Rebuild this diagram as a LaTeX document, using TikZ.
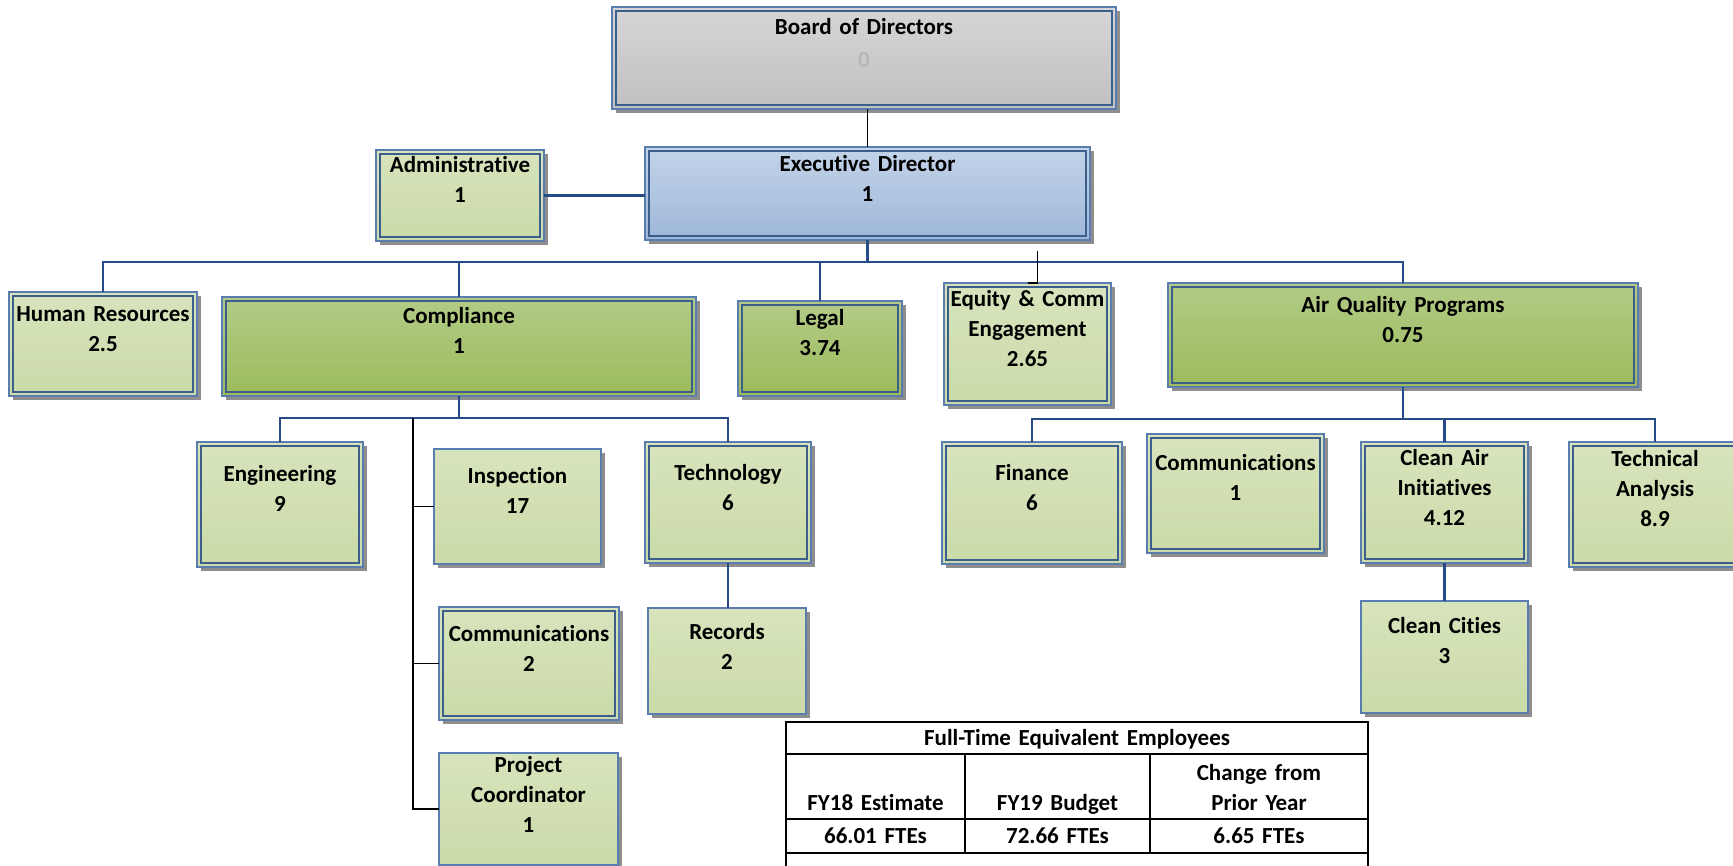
\documentclass[tikz,border=0pt]{standalone}
\usepackage{fontspec}
\setmainfont{Carlito}[Ligatures={NoCommon}]
\usepackage{xcolor}
\usetikzlibrary{shadows,calc}
\definecolor{edgeblue}{HTML}{5A7DB0}
\definecolor{rimblue}{HTML}{3B5E8C}
\definecolor{linkblue}{HTML}{264B86}
\definecolor{shadegray}{HTML}{8E8E8E}
\definecolor{paletop}{HTML}{D7E4BD}
\definecolor{palebottom}{HTML}{CBDAA8}
\definecolor{deeptop}{HTML}{B3CB87}
\definecolor{deepbottom}{HTML}{9CBB5B}
\definecolor{skytop}{HTML}{C3D4E9}
\definecolor{skybottom}{HTML}{9DB7D8}
\definecolor{greytop}{HTML}{D6D6D6}
\definecolor{greybottom}{HTML}{C0C0C0}
\definecolor{zerogray}{HTML}{B8B8B8}

\begin{document}
\begin{tikzpicture}[
  x=1pt,y=-1pt,
  font=\fontsize{23}{30}\selectfont\bfseries,
  office/.style={
    rectangle,
    anchor=north west,
    inner sep=0pt,
    outer sep=0pt,
    align=center,
    draw=edgeblue,
    line width=1.2pt,
    drop shadow={shadow xshift=4pt,shadow yshift=-4pt,fill=shadegray,opacity=1}
  },
  framed/.style={
    path picture={\draw[rimblue,line width=1.2pt]
      ([shift={(4pt,-4pt)}]path picture bounding box.north west) rectangle
      ([shift={(-4pt,4pt)}]path picture bounding box.south east);}
  },
  staff/.style={office,framed,top color=paletop,bottom color=palebottom},
  staffplain/.style={office,top color=paletop,bottom color=palebottom},
  division/.style={office,framed,top color=deeptop,bottom color=deepbottom},
  director/.style={office,framed,top color=skytop,bottom color=skybottom},
  boardbox/.style={office,framed,top color=greytop,bottom color=greybottom},
  boxsize/.style n args={3}{text width=#1pt,minimum width=#1pt,text height=#3pt,text depth=#2pt-#3pt},
  link/.style={draw=linkblue,line width=2.5pt},
  tie/.style={draw=black,line width=1.8pt},
  grid/.style={draw=black,line width=2.2pt},
  cell/.style={anchor=base,inner sep=0pt,text width=180pt,align=center}
]
  \useasboundingbox (0,0) rectangle (1733,866);

  % top of the chart
  \node[boardbox,boxsize={504}{102}{28}] (board) at (612,7) {Board of Directors\\[3pt]\textcolor{zerogray}{0}};
  \node[director,boxsize={445}{93}{25}] (exec) at (645,147) {Executive Director\\1};
  \node[staff,boxsize={168}{91}{23}] (admin) at (376,150) {Administrative\\1};

  % divisions
  \node[staff,boxsize={188}{104}{30}] (hr) at (9,292) {Human Resources\\2.5};
  \node[division,boxsize={474}{99}{27}] (compliance) at (222,297) {Compliance\\1};
  \node[division,boxsize={164}{95}{25}] (legal) at (738,301) {Legal\\3.74};
  \node[staff,boxsize={167}{122}{24}] (equity) at (944,283) {Equity \& Comm\\Engagement\\2.65};
  \node[division,boxsize={470}{104}{30}] (aqp) at (1168,283) {Air Quality Programs\\0.75};

  % compliance units
  \node[staff,boxsize={166}{125}{40}] (engineering) at (197,442) {Engineering\\9};
  \node[staffplain,boxsize={167}{115}{35}] (inspection) at (434,449) {Inspection\\17};
  \node[staff,boxsize={166}{121}{38}] (technology) at (645,442) {Technology\\6};
  \node[staff,boxsize={180}{113}{34}] (commcomp) at (439,607) {Communications\\2};
  \node[staffplain,boxsize={158}{106}{31}] (records) at (648,608) {Records\\2};
  \node[staffplain,boxsize={179}{112}{19}] (projcoord) at (439,753) {Project\\Coordinator\\1};

  % air quality units
  \node[staff,boxsize={180}{122}{38}] (finance) at (942,442) {Finance\\6};
  \node[staff,boxsize={177}{119}{37}] (commaqp) at (1147,434) {Communications\\1};
  \node[staff,boxsize={167}{121}{23}] (cleanair) at (1361,442) {Clean Air\\Initiatives\\4.12};
  \node[staff,boxsize={172}{125}{25}] (technical) at (1569,442) {Technical\\Analysis\\8.9};
  \node[staffplain,boxsize={167}{112}{32}] (cleancities) at (1361,601) {Clean Cities\\3};

  \coordinate (bus) at (0,262);
  \coordinate (cbus) at (0,418);
  \coordinate (abus) at (0,419);
  \coordinate (spine) at (413,418);

  \draw[tie] (exec.north) -- (exec.north |- board.south);
  \draw[link] (admin.east) -- (admin.east -| exec.west);
  \draw[link] (exec.south) -- (exec.south |- bus);
  \draw[link] (hr.north) |- (aqp.north |- bus) -- (aqp.north);
  \draw[link] (compliance.north) -- (compliance.north |- bus);
  \draw[link] (legal.north) -- (legal.north |- bus);
  \draw[tie] (equity.north) -| ($(equity.north |- bus)+(10,-11)$);

  \draw[link] (compliance.south) -- (compliance.south |- cbus);
  \draw[link] (engineering.north) |- (technology.north |- cbus) -- (technology.north);
  \draw[link] (technology.south) -- (technology.south |- records.north);
  \draw[tie] (spine) |- (projcoord.west);
  \draw[tie] (spine |- inspection.west) -- (inspection.west);
  \draw[tie] (spine |- commcomp.west) -- (commcomp.west);

  \draw[link] (aqp.south) -- (aqp.south |- abus);
  \draw[link] (finance.north) |- (technical.north |- abus) -- (technical.north);
  \draw[link] (cleanair.north) -- (cleanair.north |- abus);
  \draw[link] (cleanair.south) -- (cleancities.north);

  % FTE table
  \draw[grid] (786,722) rectangle (1368,880);
  \draw[grid] (786,754) -- (1368,754);
  \draw[grid] (786,819) -- (1368,819);
  \draw[grid] (786,853) -- (1368,853);
  \draw[grid] (965,754) -- (965,853);
  \draw[grid] (1150,754) -- (1150,853);
  \node[cell,text width=560pt] (ftetitle) at (1077,745) {Full-Time Equivalent Employees};
  \node[cell] (headfy18) at (875.5,810) {FY18 Estimate};
  \node[cell] (headfy19) at (1057.5,810) {FY19 Budget};
  \node[cell] (headchange) at (1259,780) {Change from\\Prior Year};
  \node[cell] (fy18) at (875.5,843) {66.01 FTEs};
  \node[cell] (fy19) at (1057.5,843) {72.66 FTEs};
  \node[cell] (change) at (1259,843) {6.65 FTEs};
\end{tikzpicture}
\end{document}
